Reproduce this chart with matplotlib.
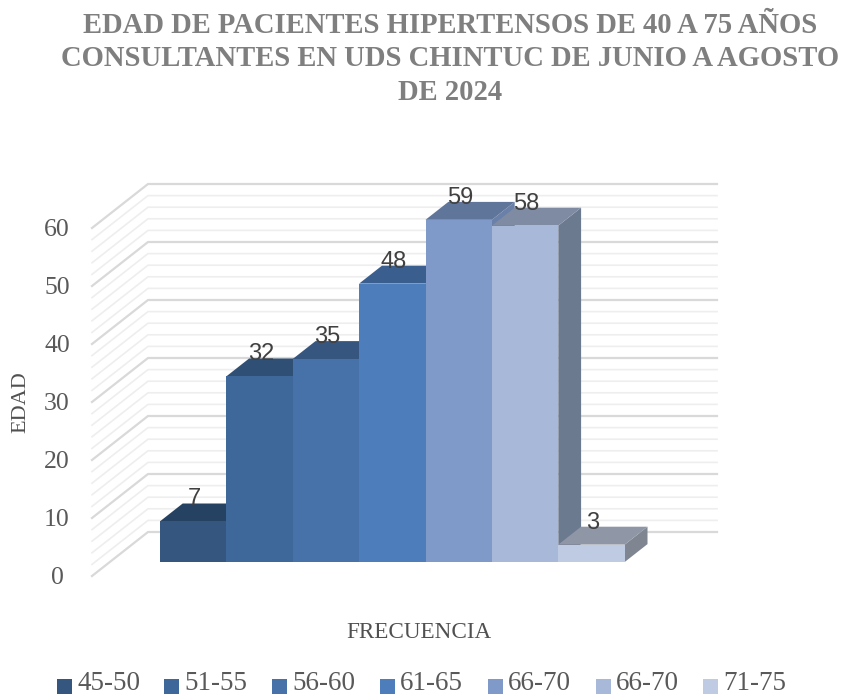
import matplotlib
matplotlib.use("Agg")
import matplotlib.pyplot as plt
from matplotlib.patches import Polygon, Rectangle

plt.rcParams["font.family"] = ["Liberation Serif", "DejaVu Serif"]

rangos = ["45-50", "51-55", "56-60", "61-65", "66-70", "66-70", "71-75"]
valores = [7, 32, 35, 48, 59, 58, 3]
ticks = [0, 10, 20, 30, 40, 50, 60]

frente = ["#35577f", "#3e6899", "#4772a9", "#4d7ebb", "#7f9ac9", "#a8b8d8", "#bfcbe3"]
arriba = ["#264263", "#2f4f75", "#365680", "#3a5f8e", "#5f759a", "#7f8ba3", "#8f97a6"]
lado = ["#2b4a6e", "#345a85", "#3d6192", "#426da1", "#6a80a8", "#6c7a90", "#7f8692"]

W, H = 841, 698
PX_X = 66.4   # px por barra
PX_Y = 5.8    # px por unidad
X0, Y0 = 376.5, 576   # centro y cero del frente del piso
DX = 56 / PX_X   # profundidad del piso
DY = 44 / PX_Y
D0, D1 = 0.318, 0.725  # profundidad de las barras
MEDIO = 569 / 2 / PX_X
CORRE = -2 / PX_X


def pr(x, v, d=0.0):
    return (x + d * DX, v + d * DY)


fig = plt.figure(figsize=(W / 100, H / 100), dpi=100)
ax = fig.add_axes([0, 0, 1, 1])
ax.set_xlim(-X0 / PX_X, (W - X0) / PX_X)
ax.set_ylim(-(H - Y0) / PX_Y, Y0 / PX_Y)
ax.axis("off")

# paredes
for v in range(0, 61, 2):
    mayor = v % 10 == 0
    pts = [pr(-MEDIO, v), pr(-MEDIO, v, 1), pr(MEDIO, v, 1)]
    ax.plot([p[0] for p in pts], [p[1] for p in pts],
            color="#d9d9d9" if mayor else "#eeeeee", lw=1.6 if mayor else 1.2, zorder=1)

# barras, de izquierda a derecha
n = len(valores)
for i, val in enumerate(valores):
    x0 = i - n / 2 + CORRE
    x1 = x0 + 1
    z = 2 + i
    ax.add_patch(Polygon([pr(x1, 0, D0), pr(x1, 0, D1), pr(x1, val, D1), pr(x1, val, D0)],
                         closed=True, fc=lado[i], ec="none", zorder=z))
    ax.add_patch(Polygon([pr(x0, val, D0), pr(x0, val, D1), pr(x1, val, D1), pr(x1, val, D0)],
                         closed=True, fc=arriba[i], ec="none", zorder=z))
    ax.add_patch(Polygon([pr(x0, 0, D0), pr(x1, 0, D0), pr(x1, val, D0), pr(x0, val, D0)],
                         closed=True, fc=frente[i], ec="none", zorder=z))

# etiquetas de datos
for i, val in enumerate(valores):
    xc = i - n / 2 + 0.5 + CORRE
    ax.annotate(str(val), xy=(pr(xc, val, D0)[0], pr(xc, val, D1)[1]), xytext=(1, -5),
                textcoords="offset points", ha="center", va="bottom", fontsize=17,
                family=["Liberation Sans"], color="#404040", zorder=20)

# eje y
for t in ticks:
    ax.text((57 - X0) / PX_X, t - 2 / PX_Y, str(t), ha="center", va="center", fontsize=18.5,
            color="#595959")

fig.text(450 / W, 1 - 59 / H,
         "EDAD DE PACIENTES HIPERTENSOS DE 40 A 75 AÑOS\n"
         "CONSULTANTES EN UDS CHINTUC DE JUNIO A AGOSTO\n"
         "DE 2024",
         ha="center", va="center", fontsize=20.6, fontweight="bold", color="#7f7f7f",
         linespacing=1.33)
fig.text(21 / W, 1 - 402 / H, "EDAD", rotation=90, ha="center", va="center",
         fontsize=16, color="#505050")
fig.text(419 / W, 1 - 632 / H, "FRECUENCIA", ha="center", va="center",
         fontsize=16.7, color="#505050")

# leyenda
ley_x = [57, 164, 272, 380, 488, 596, 703]
for xp, nombre, c in zip(ley_x, rangos, frente):
    ax_x = (xp - X0) / PX_X
    ax.add_patch(Rectangle((ax_x, (Y0 - 694) / PX_Y), 15 / PX_X, 15 / PX_Y, fc=c, ec="none", zorder=30))
    ax.text(ax_x + 20 / PX_X, (Y0 - 684) / PX_Y, nombre, ha="left", va="center",
            fontsize=19.5, color="#595959")

fig.savefig("out.png", dpi=100)
